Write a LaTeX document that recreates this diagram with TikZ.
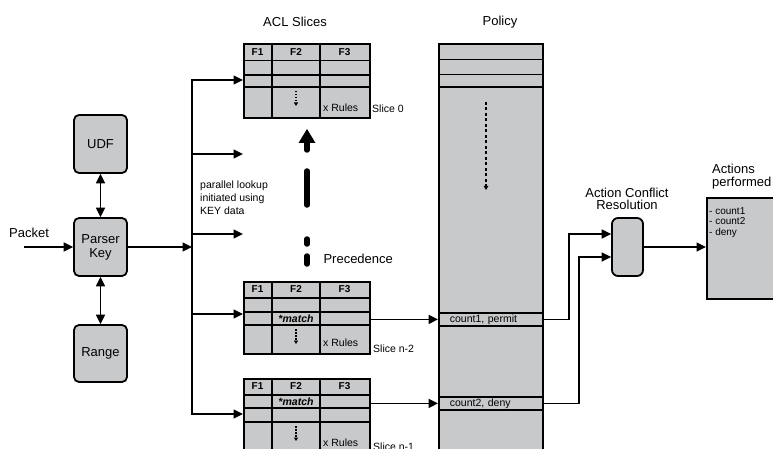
\documentclass[tikz,border=0pt]{standalone}
\usepackage{fontspec}
\setmainfont{Liberation Sans}
\usetikzlibrary{arrows.meta}
\definecolor{boxgray}{RGB}{200,201,203}
\begin{document}
\begin{tikzpicture}[x=1pt,y=-1pt,
  border/.style={line width=1.8pt},
  rbox/.style={draw, line width=1.8pt, fill=boxgray, rounded corners=5pt, inner sep=0pt},
  tbox/.style={draw, line width=1.8pt, fill=boxgray, inner sep=0pt, anchor=north west},
  conn/.style={line width=1.7pt, -{Triangle[length=9.5pt,width=9pt]}},
  biconn/.style={line width=1.7pt, {Triangle[length=9.5pt,width=9pt]}-{Triangle[length=9.5pt,width=9pt]}},
  big/.style={font=\fontsize{13}{14}\selectfont},
  small/.style={font=\fontsize{10.5}{13}\selectfont},
  hdr/.style={font=\fontsize{10}{12}\selectfont\bfseries},
  mtch/.style={font=\fontsize{10.5}{12}\selectfont\bfseries\itshape},
  dotarrow/.style={line width=1.2pt, dash pattern=on 1.5pt off 1.5pt, -{Triangle[length=3.5pt,width=4pt]}},
]
\clip (0,0) rectangle (773,449);

% ---- left part
\node[big] (pkt) at (29,233) {Packet};
\node[rbox, minimum width=53pt, minimum height=58pt, big] (udf) at (100.5,144) {UDF};
\node[rbox, minimum width=53pt, minimum height=58pt, big, align=center] (parser) at (100.5,247) {Parser\\Key};
\node[rbox, minimum width=53pt, minimum height=57pt, big] (range) at (100.5,353.5) {Range};
\coordinate (pin) at (24,247);
\draw[conn] (pin) -- (parser);
\draw[biconn] (udf) -- (parser);
\draw[biconn] (parser) -- (range);
\coordinate (bar) at (192,247);
\draw[conn] (parser) -- (bar);

% ---- titles
\node[big] (acltitle) at (295,22) {ACL Slices};
\node[big] (poltitle) at (500,22) {Policy};

% ---- slice 0
\node[tbox, minimum width=126pt, minimum height=74pt] (slA) at (243,43) {};
\foreach \y in {60.5,75,87} \draw[border] (243,\y) -- (369,\y);
\foreach \x in {272,320} \draw[border] (\x,43) -- (\x,117);
\node[hdr] (slAf1) at (257.5,52) {F1};
\node[hdr] (slAf2) at (296,52) {F2};
\node[hdr] (slAf3) at (344.5,52) {F3};
\draw[dotarrow] (296,91) -- (296,106);
\node[small, anchor=west, inner sep=1pt] (slAx) at (322,108) {x Rules};
\node[small, anchor=west, inner sep=1pt] (slAl) at (371,109) {Slice 0};

% ---- slice n-2
\node[tbox, minimum width=126pt, minimum height=72pt] (slB) at (243,281) {};
\foreach \y in {298,312,325} \draw[border] (243,\y) -- (369,\y);
\foreach \x in {272,320} \draw[border] (\x,281) -- (\x,353);
\node[hdr] (slBf1) at (257.5,289.5) {F1};
\node[hdr] (slBf2) at (296,289.5) {F2};
\node[hdr] (slBf3) at (344.5,289.5) {F3};
\node[mtch] (slBm) at (296,318.5) {*match};
\draw[dotarrow] (296,329) -- (296,344);
\node[small, anchor=west, inner sep=1pt] (slBx) at (322,343) {x Rules};
\node[small, anchor=west, inner sep=1pt] (slBl) at (372,349) {Slice n-2};

% ---- slice n-1
\node[tbox, minimum width=126pt, minimum height=82pt] (slC) at (243,378) {};
\foreach \y in {395,408,422} \draw[border] (243,\y) -- (369,\y);
\foreach \x in {272,320} \draw[border] (\x,378) -- (\x,460);
\node[hdr] (slCf1) at (257.5,386.5) {F1};
\node[hdr] (slCf2) at (296,386.5) {F2};
\node[hdr] (slCf3) at (344.5,386.5) {F3};
\node[mtch] (slCm) at (296,401.5) {*match};
\draw[dotarrow] (296,426) -- (296,441);
\node[small, anchor=west, inner sep=1pt] (slCx) at (322,443) {x Rules};
\node[small, anchor=west, inner sep=1pt] (slCl) at (372,447) {Slice n-1};

% ---- bar and lookup arrows
\draw[conn] (bar) |- (slA.west |- 0,80);
\draw[conn] (bar) |- (slB.west |- 0,314);
\draw[conn] (bar) |- (slC.west |- 0,414);
\coordinate (pl1) at (243,154);
\coordinate (pl2) at (243,234);
\draw[conn] (bar |- pl1) -- (pl1);
\draw[conn] (bar |- pl2) -- (pl2);
\node[small, align=left, anchor=north west, inner sep=0pt, font=\fontsize{10.5}{13}\selectfont] (plt) at (200,181) {parallel lookup\\initiated using\\KEY data};

% ---- precedence arrow
\fill (298.5,143) -- (307,129) -- (315.5,143) -- cycle;
\draw[line width=5.5pt, line cap=round] (307,142) -- (307,150);
\draw[line width=5.5pt, line cap=round] (307,171) -- (307,205);
\draw[line width=5.5pt, line cap=round] (307,239) -- (307,244);
\draw[line width=5.5pt, line cap=round] (307,256) -- (307,264);
\node[big, anchor=west] (prec) at (320,259) {Precedence};

% ---- policy
\node[tbox, minimum width=104pt, minimum height=420pt] (pol) at (438,43) {};
\foreach \y in {59.5,74.5,87} \draw[border] (438,\y) -- (542,\y);
\draw[line width=1.6pt, dash pattern=on 3pt off 2.5pt, -{Triangle[length=4pt,width=4.5pt]}] (486,102) -- (486,190);
\node[tbox, minimum width=104pt, minimum height=13pt, text width=82pt, inner xsep=11pt, align=left, small] (c1) at (438,312) {count1, permit};
\node[tbox, minimum width=104pt, minimum height=13pt, text width=82pt, inner xsep=11pt, align=left, small] (c2) at (438,396) {count2, deny};
\draw[conn] (slB.east |- c1.west) -- (c1.west);
\draw[conn] (slC.east |- c2.west) -- (c2.west);

% ---- action conflict resolution
\node[rbox, rounded corners=6pt, minimum width=31pt, minimum height=58pt] (acr) at (627.5,247) {};
\node[big, align=center, font=\fontsize{13}{12.5}\selectfont] (acrt) at (627,199) {Action Conflict\\Resolution};
\draw[conn] (c1.east) -- ++(25,0) |- ([yshift=13pt]acr.west);
\draw[conn] (c2.east) -- ++(35,0) |- ([yshift=-10pt]acr.west);

% ---- actions performed
\node[tbox, minimum width=90pt, minimum height=101pt] (act) at (706,197) {};
\node[big, align=left, anchor=west, inner sep=0pt, font=\fontsize{13}{13}\selectfont] (actt) at (712,176.5) {Actions\\performed};
\node[align=left, anchor=north west, inner sep=0pt, font=\fontsize{10}{10.5}\selectfont] (acti) at (709,207) {- count1\\- count2\\- deny};
\draw[conn] (acr.east) -- (act.west |- acr.east);
\end{tikzpicture}
\end{document}
